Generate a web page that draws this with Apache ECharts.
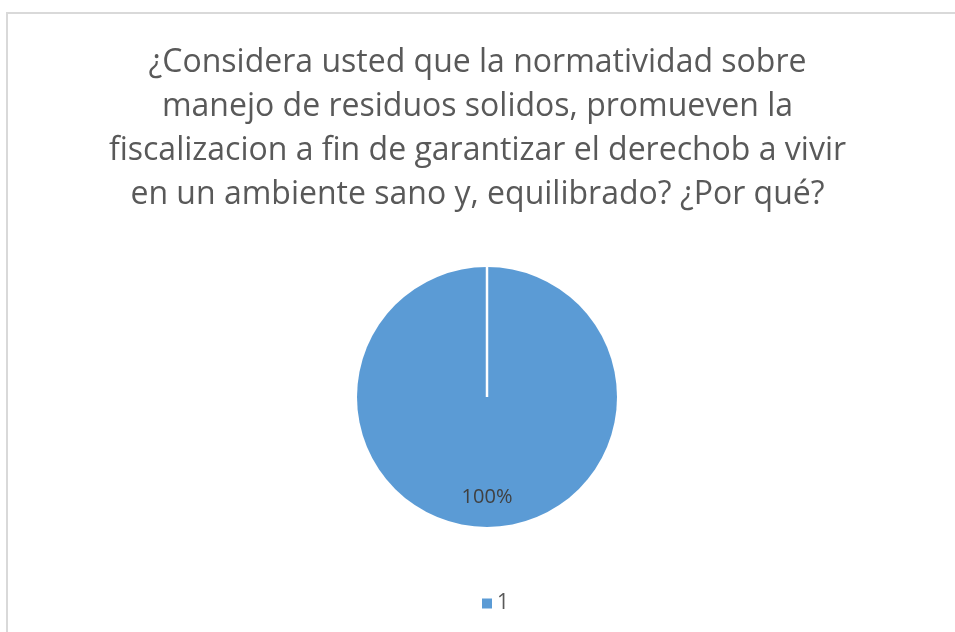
<!DOCTYPE html>
<html><head><meta charset="utf-8">
<script src="https://cdn.jsdelivr.net/npm/echarts@6/dist/echarts.min.js"></script>
<style>html,body{margin:0;padding:0;background:#fff}#c{width:955px;height:632px}</style>
</head><body><div id="c"></div>
<script>
const titleLines = [
  '¿Considera usted que la normatividad sobre',
  'manejo de residuos solidos, promueven la',
  'fiscalizacion a fin de garantizar el derechob a vivir',
  'en un ambiente sano y, equilibrado? ¿Por qué?'
];
const categories = ['1'];
const values = [100];

const cx = 487, cy = 397, r = 130;
const chart = echarts.init(document.getElementById('c'), null, {renderer:'canvas'});
chart.setOption({
  animation: false,
  backgroundColor: '#fff',
  title: {
    text: titleLines.join('\n'),
    left: 'center', top: 36,
    textStyle: {fontFamily: 'Open Sans', fontSize: 32, fontWeight: 'normal', color: '#595959', lineHeight: 44}
  },
  legend: {
    top: 588, left: 477,
    icon: 'rect', itemWidth: 10, itemHeight: 10, itemGap: 10,
    textStyle: {fontFamily: 'Open Sans', fontSize: 21, color: '#595959'},
    data: categories
  },
  graphic: [
    {type:'rect', shape:{x:7, y:13, width:1000, height:1000}, style:{fill:'none', stroke:'#d9d9d9', lineWidth:2}, z:-1},
    {type:'line', shape:{x1:cx, y1:cy, x2:cx, y2:cy-r}, style:{stroke:'#fff', lineWidth:2.5}, z:100}
  ],
  series: [{
    type: 'pie',
    center: [cx, cy], radius: r,
    startAngle: 90,
    data: categories.map((c,i)=>({name:c, value:values[i]})),
    itemStyle: {color: '#5b9bd5'},
    label: {
      position: 'inside',
      offset: [0, 32],
      formatter: p => Math.round(p.percent) + '%',
      fontFamily: 'Open Sans', fontSize: 20, color: '#404040'
    },
    emphasis: {disabled: true}
  }]
});
</script></body></html>
